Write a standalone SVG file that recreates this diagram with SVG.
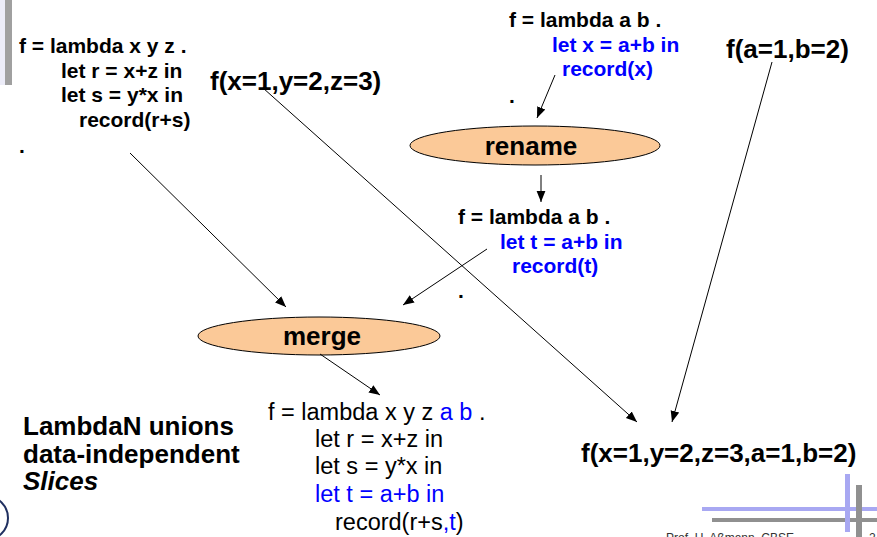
<svg xmlns="http://www.w3.org/2000/svg" width="877" height="537" viewBox="0 0 877 537">
<style>
.b21{font-family:"Liberation Sans",Arial,sans-serif;font-weight:bold;font-size:21px;fill:#000}
.b26{font-family:"Liberation Sans",Arial,sans-serif;font-weight:bold;font-size:26px;fill:#000}
.n23{font-family:"Liberation Sans",Arial,sans-serif;font-size:23.5px;fill:#000}
.blue{fill:#0000ff}
.ell{fill:#fbc998;stroke:#000;stroke-width:1}
.con line{stroke:#000;stroke-width:1;fill:none;marker-end:url(#ah)}
.foot{font-family:"Liberation Sans",Arial,sans-serif;font-size:12px;fill:#333}
</style>
<defs>
<marker id="ah" viewBox="0 0 10 10" refX="10" refY="5" markerWidth="11" markerHeight="11" markerUnits="userSpaceOnUse" orient="auto">
<path d="M0,1 L10,5 L0,9 z" fill="#000"/>
</marker>
</defs>
<rect width="877" height="537" fill="#fff"/>
<!-- decorations -->
<rect x="0" y="0" width="5" height="85" fill="#ececf8"/>
<rect x="5" y="0" width="7" height="85" fill="#a0a0a0"/>
<circle cx="-14" cy="518" r="22" fill="#fff" stroke="#203060" stroke-width="2"/>
<rect x="702" y="507" width="175" height="4" fill="#a8a8f2"/>
<rect x="712" y="518" width="165" height="4" fill="#909090"/>
<rect x="845" y="474" width="5" height="58" fill="#a8a8f2"/>
<rect x="856" y="485" width="6" height="52" fill="#909090"/>
<text class="foot" x="666" y="542">Prof. U. Aßmann, CBSE</text>
<text class="foot" x="869" y="542">2</text>

<g id="src-xyz">
<text class="b21" x="19" y="53">f = lambda x y z .</text>
<text class="b21" x="61" y="77.5">let r = x+z in</text>
<text class="b21" x="61" y="102">let s = y*x in</text>
<text class="b21" x="79" y="126.5">record(r+s)</text>
<text class="b21" x="19" y="153">.</text>
</g>
<g id="call-xyz"><text class="b26" x="210" y="90">f(x=1,y=2,z=3)</text></g>
<g id="src-ab">
<text class="b21" x="509" y="27">f = lambda a b .</text>
<text class="b21 blue" x="552" y="52">let x = a+b in</text>
<text class="b21 blue" x="562" y="76">record(x)</text>
<text class="b21" x="509" y="103">.</text>
</g>
<g id="call-ab"><text class="b26" x="726" y="58">f(a=1,b=2)</text></g>
<g id="rename">
<ellipse class="ell" cx="535" cy="145.5" rx="125" ry="19.5"/>
<text class="b26" x="531" y="155" text-anchor="middle">rename</text>
</g>
<g id="renamed">
<text class="b21" x="458" y="224">f = lambda a b .</text>
<text class="b21 blue" x="500" y="249">let t = a+b in</text>
<text class="b21 blue" x="512" y="273">record(t)</text>
<text class="b21" x="458" y="298">.</text>
</g>
<g id="merge">
<ellipse class="ell" cx="319" cy="336" rx="121" ry="19"/>
<text class="b26" x="322" y="345" text-anchor="middle">merge</text>
</g>
<g id="result">
<text class="n23" x="268" y="420">f = lambda x y z <tspan class="blue">a b</tspan> .</text>
<text class="n23" x="315" y="447">let r = x+z in</text>
<text class="n23" x="315" y="474">let s = y*x in</text>
<text class="n23 blue" x="315" y="502">let t = a+b in</text>
<text class="n23" x="335" y="530">record(r+s<tspan class="blue">,t</tspan>)</text>
</g>
<g id="caption">
<text class="b26" x="23" y="435">LambdaN unions</text>
<text class="b26" x="23" y="463">data-independent</text>
<text class="b26" x="23" y="490" font-style="italic">Slices</text>
</g>
<g id="call-all"><text class="b26" x="581" y="462">f(x=1,y=2,z=3,a=1,b=2)</text></g>
<g id="connectors" class="con">
<line x1="555" y1="75" x2="537" y2="118"/>
<line x1="541" y1="175" x2="541" y2="202"/>
<line x1="487" y1="249" x2="403" y2="305"/>
<line x1="130" y1="153" x2="286" y2="307"/>
<line x1="320" y1="354" x2="380" y2="395"/>
<line x1="263" y1="88" x2="637" y2="422"/>
<line x1="772" y1="62" x2="672" y2="422"/>
</g>
</svg>
